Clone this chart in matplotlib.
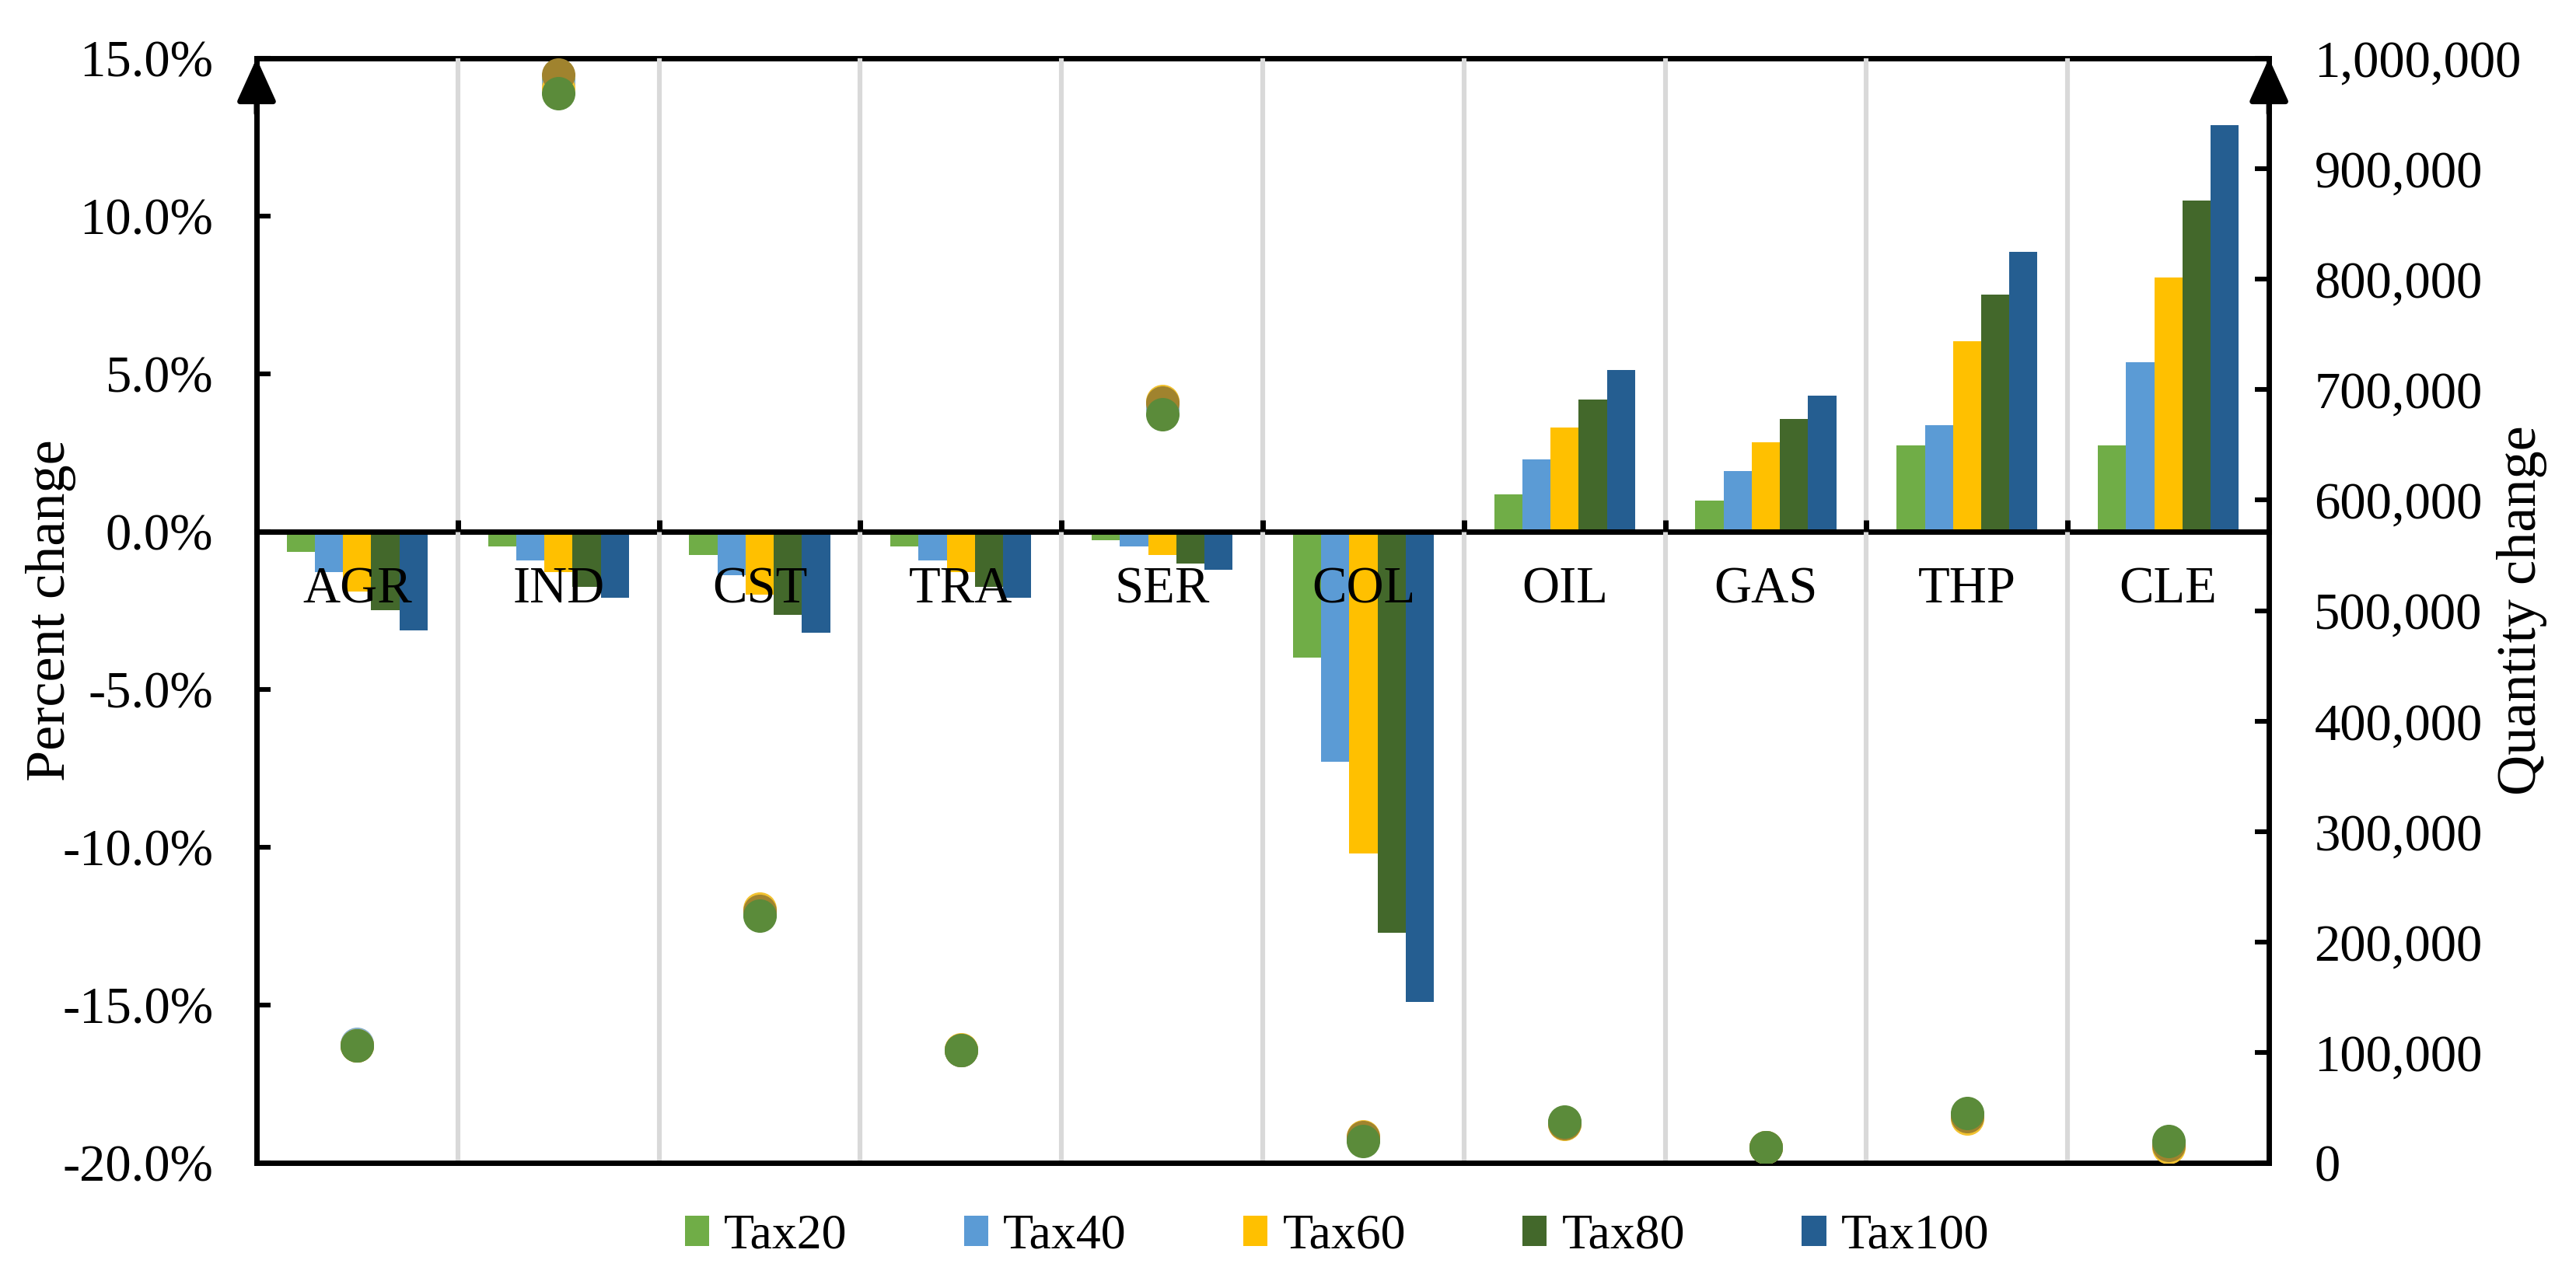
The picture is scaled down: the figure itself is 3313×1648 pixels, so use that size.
import numpy as np
import matplotlib
matplotlib.use("Agg")
import matplotlib.pyplot as plt
from matplotlib.patches import Patch
from matplotlib.ticker import FuncFormatter, FixedLocator

# ======================================================
# DATA
# ======================================================

sectors = ["AGR", "IND", "CST", "TRA", "SER", "COL", "OIL", "GAS", "THP", "CLE"]

scenarios = ["Tax20", "Tax40", "Tax60", "Tax80", "Tax100"]

# percent change (left axis, bars)
pct_tax20 = [-0.65, -0.46, -0.73, -0.46, -0.26, -4.0, 1.19, 0.99, 2.73, 2.74]
pct_tax40 = [-1.28, -0.92, -1.37, -0.92, -0.46, -7.3, 2.28, 1.92, 3.38, 5.38]
pct_tax60 = [-1.90, -1.28, -2.00, -1.28, -0.73, -10.2, 3.29, 2.83, 6.03, 8.05]
pct_tax80 = [-2.48, -1.74, -2.64, -1.74, -1.00, -12.7, 4.19, 3.56, 7.50, 10.50]
pct_tax100 = [-3.12, -2.10, -3.20, -2.10, -1.20, -14.9, 5.12, 4.30, 8.86, 12.87]

# quantity change (right axis, circles)
qty_tax20 = [106000, 980000, 226000, 102000, 684000, 22000, 36000, 14000, 43000, 17000]
qty_tax40 = [108000, 978000, 226000, 102000, 684000, 22000, 36000, 14000, 43000, 17000]
qty_tax60 = [106000, 973000, 230000, 103000, 690000, 24000, 35000, 14000, 40000, 14000]
qty_tax80 = [106000, 985000, 228000, 102000, 688000, 23000, 36000, 14000, 42000, 16000]
qty_tax100 = [106000, 968000, 224000, 102000, 678000, 20000, 37000, 14000, 45000, 20000]

pct_series = [pct_tax20, pct_tax40, pct_tax60, pct_tax80, pct_tax100]
qty_series = [qty_tax20, qty_tax40, qty_tax60, qty_tax80, qty_tax100]

# ======================================================
# STYLE
# ======================================================

plt.rcParams["font.family"] = ["Liberation Serif", "DejaVu Serif"]

bar_colors = ["#70AD47", "#5B9BD5", "#FFC000", "#43682B", "#255E91"]
dot_colors = ["#8DBA6A", "#86AFC8", "#F2C230", "#A0832E", "#5B8B3A"]

SPINE_W = 2.5
FS = 24

# ======================================================
# FIGURE
# ======================================================

fig = plt.figure(figsize=(16.565, 8.24), dpi=200)

ax = fig.add_axes([0.0996, 0.0922, 0.7812, 0.8623])
ax2 = ax.twinx()

x = np.arange(len(sectors))
bar_w = 0.14

for i, (vals, col) in enumerate(zip(pct_series, bar_colors)):
    ax.bar(x + (i - 2) * bar_w, vals, width=bar_w, color=col, zorder=1)

for vals, col in zip(qty_series, dot_colors):
    ax2.scatter(x, vals, s=240, color=col, linewidths=0, zorder=3)

# ======================================================
# AXES
# ======================================================

ax.set_xlim(-0.5, len(sectors) - 0.5)
ax.set_ylim(-20, 15)
ax2.set_ylim(0, 1000000)

ax.set_yticks(np.arange(-20, 15.1, 5))
ax.yaxis.set_major_formatter(FuncFormatter(lambda v, p: f"{v:.1f}%"))
ax2.set_yticks(np.arange(0, 1000001, 100000))
ax2.yaxis.set_major_formatter(FuncFormatter(lambda v, p: f"{v:,.0f}"))

ax.set_xticks(x)
ax.set_xticklabels(sectors)
ax.xaxis.set_minor_locator(FixedLocator(np.arange(0.5, len(sectors) - 0.5, 1)))

ax.spines["bottom"].set_position(("data", 0))
ax.spines["right"].set_visible(False)
for s in ["left", "top", "bottom"]:
    ax.spines[s].set_linewidth(SPINE_W)
for s in ["left", "top"]:
    ax2.spines[s].set_visible(False)
for s in ["right", "bottom"]:
    ax2.spines[s].set_linewidth(SPINE_W)

ax.tick_params(axis="x", which="major", length=0, pad=16, labelsize=FS)
ax.tick_params(axis="x", which="minor", direction="in", length=5.4, width=SPINE_W)
ax.tick_params(axis="y", direction="in", length=6.5, width=2.2, pad=20, labelsize=FS)
ax2.tick_params(axis="y", direction="in", length=6.5, width=2.2, pad=21, labelsize=FS)

# grid lines sit at the category borders, so they never cross a bar
ax.grid(which="minor", axis="x", color="#D9D9D9", linewidth=2.2)
ax.set_axisbelow(False)

ax.set_ylabel("Percent change", fontsize=26)
ax.yaxis.set_label_coords(-0.0897, 0.5)
ax2.set_ylabel("Quantity change", fontsize=26)
ax2.yaxis.set_label_coords(1.113, 0.5)

# arrow heads on both value axes
for xpos in [0, 1]:
    ax2.annotate(
        "",
        xy=(xpos, 1.0),
        xytext=(xpos, 0.95),
        xycoords="axes fraction",
        textcoords="axes fraction",
        arrowprops=dict(
            arrowstyle="-|>,head_length=0.85,head_width=0.385",
            mutation_scale=20,
            color="black",
            lw=SPINE_W,
            shrinkA=0,
            shrinkB=0,
        ),
        annotation_clip=False,
    )

# ======================================================
# LEGEND
# ======================================================

handles = [Patch(facecolor=c, edgecolor="none") for c in bar_colors]

fig.legend(
    handles,
    scenarios,
    loc="center",
    bbox_to_anchor=(0.519, 0.0346),
    ncol=5,
    frameon=False,
    fontsize=23,
    handlelength=0.49,
    handleheight=0.56,
    handletextpad=0.3,
    columnspacing=2.35,
)

fig.savefig("out.png", dpi=200)
